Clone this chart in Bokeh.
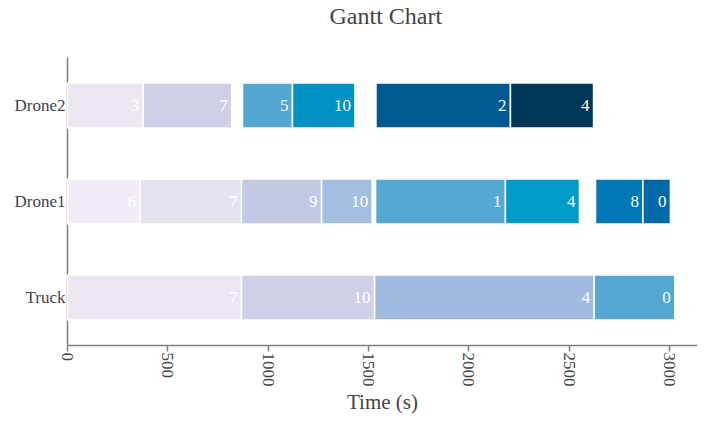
from bokeh.plotting import figure
from bokeh.models import ColumnDataSource, Range1d, FactorRange, FixedTicker, Title
from bokeh.core.properties import value
from bokeh.embed import file_html
from bokeh.resources import INLINE
import math

vehicles = ["Truck", "Drone1", "Drone2"]

truck_start = [0, 867, 1530, 2624]
truck_end = [867, 1530, 2624, 3026]
truck_nodes = ["7", "10", "4", "0"]
truck_colors = ["#ECE6F1", "#CFCFE7", "#A0BBDF", "#54A8D1"]

drone1_start = [0, 362, 867, 1266, 1535, 2182, 2631, 2867]
drone1_end = [362, 867, 1266, 1518, 2182, 2551, 2867, 3004]
drone1_nodes = ["6", "7", "9", "10", "1", "4", "8", "0"]
drone1_colors = ["#F1ECF5", "#E7E2F0", "#C2C9E3", "#A2BFDF", "#54A8D1", "#009CC7", "#0078B5", "#0068A7"]

drone2_start = [0, 377, 872, 1121, 1537, 2207]
drone2_end = [377, 818, 1121, 1432, 2207, 2621]
drone2_nodes = ["3", "7", "5", "10", "2", "4"]
drone2_colors = ["#ECE6F1", "#CFD0E7", "#54A7D0", "#0092C2", "#005A8F", "#003657"]

x_ticks = [0, 500, 1000, 1500, 2000, 2500, 3000]

rows = [("Truck", truck_start, truck_end, truck_nodes, truck_colors),
        ("Drone1", drone1_start, drone1_end, drone1_nodes, drone1_colors),
        ("Drone2", drone2_start, drone2_end, drone2_nodes, drone2_colors)]

ys, lefts, rights, labels, colors = [], [], [], [], []
for name, s, e, n, c in rows:
    for a, b, lab, col in zip(s, e, n, c):
        ys.append(name)
        lefts.append(a)
        rights.append(b)
        labels.append(lab)
        colors.append(col)

src = ColumnDataSource(dict(y=ys, left=lefts, right=rights, label=labels, color=colors))

FONT = "Liberation Serif"

p = figure(width=697, height=416, output_backend="svg", toolbar_location=None,
           y_range=FactorRange(*vehicles), x_range=Range1d(0, 3139),
           min_border_left=67, min_border_right=0, min_border_top=57, min_border_bottom=69)
p.outline_line_color = None
p.xgrid.visible = False
p.ygrid.visible = False
p.background_fill_color = "white"
p.border_fill_color = "white"

spacer = Title(text=" ", text_font_size="14px", standoff=9)
p.add_layout(spacer, "above")
main_title = Title(text="Gantt Chart", text_font=FONT, text_font_size="24px",
                   text_font_style="normal", text_color="#444444", align="left",
                   offset=262, vertical_align="top", standoff=0)
p.add_layout(main_title, "above")

r = p.hbar(y="y", left="left", right="right", height=0.47, source=src,
           fill_color="color", line_color="white", line_width=1.5)
r.level = "overlay"

t = p.text(x="right", y="y", text="label", source=src, text_align="right",
           text_baseline="middle", x_offset=-4, text_color="white",
           text_font=value(FONT), text_font_size="17px")
t.level = "overlay"

ax = p.xaxis[0]
ax.ticker = FixedTicker(ticks=x_ticks)
ax.major_label_orientation = -math.pi / 2
ax.major_label_text_font = FONT
ax.major_label_text_font_size = "17px"
ax.major_label_text_color = "#444444"
ax.major_label_standoff = 1
ax.axis_label = "Time (s)"
ax.axis_label_text_font = FONT
ax.axis_label_text_font_size = "21px"
ax.axis_label_text_font_style = "normal"
ax.axis_label_text_color = "#444444"
ax.axis_label_text_line_height = 1.0
ax.axis_label_standoff = 0
ax.axis_line_color = "#7f7f7f"
ax.axis_line_width = 1.5
ax.major_tick_line_color = "#7f7f7f"
ax.major_tick_line_width = 1.5
ax.major_tick_out = 6
ax.major_tick_in = 0
ax.minor_tick_line_color = None

ay = p.yaxis[0]
ay.major_label_text_font = FONT
ay.major_label_text_font_size = "17px"
ay.major_label_text_color = "#444444"
ay.major_label_standoff = 2
ay.major_tick_out = 0
ay.major_tick_in = 0
ay.axis_line_color = "#7f7f7f"
ay.axis_line_width = 1.5
ay.major_tick_line_color = None
ay.minor_tick_line_color = None

open("out.html", "w").write(file_html(p, INLINE))
